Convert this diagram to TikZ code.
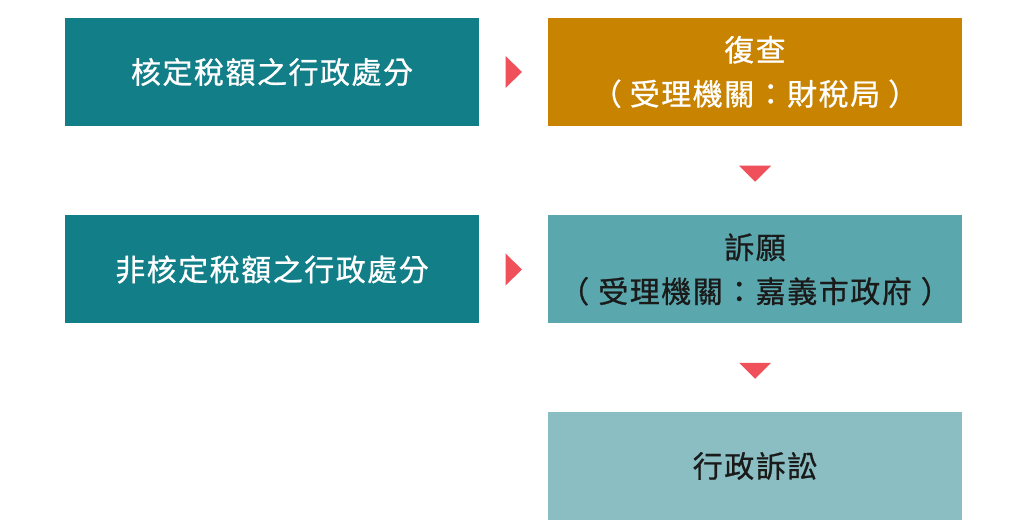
\documentclass[tikz,border=0pt]{standalone}
\usepackage{fontspec}
\newfontfamily\cjk{Noto Sans CJK TC}[FakeBold=0.8,LetterSpace=5]
\usetikzlibrary{calc}
\definecolor{tealA}{HTML}{127E87}
\definecolor{goldA}{HTML}{C88300}
\definecolor{tealB}{HTML}{5AA7AD}
\definecolor{tealC}{HTML}{8ABEC2}
\definecolor{arrowred}{HTML}{F0505A}
\definecolor{darktxt}{HTML}{1A1A1A}
\tikzset{
  box/.style={minimum width=414pt, minimum height=108pt, inner sep=0pt, align=center,
    font=\cjk\fontsize{30}{44}\selectfont, text=white},
}
\begin{document}
\begin{tikzpicture}[x=1pt,y=-1pt]
\useasboundingbox[fill=white] (0,0) rectangle (1020,529);
\node[box, fill=tealA] (k1) at (272,72) {核定稅額之行政處分};
\node[box, fill=goldA] (f1) at (755,72) {復查\\（\hspace{8pt}受理機關：財稅局\hspace{8pt}）};
\node[box, fill=tealA] (k2) at (272,269.5) {非核定稅額之行政處分};
\node[box, fill=tealB, text=darktxt] (f2) at (755,269.5) {訴願\\（\hspace{9pt}受理機關：嘉義市政府\hspace{9pt}）};
\node[box, fill=tealC, text=darktxt] (f3) at (755,466) {行政訴訟};
\coordinate (m1) at ($(k1.east)!0.5!(f1.west)$);
\coordinate (m2) at ($(k2.east)!0.5!(f2.west)$);
\coordinate (d1) at ($(f1.south)!0.5!(f2.north)$);
\coordinate (d2) at ($(f2.south)!0.5!(f3.north)$);
\fill[arrowred] ($(m1)+(-8,-16)$) -- ($(m1)+(-8,16)$) -- ($(m1)+(8.5,0)$) -- cycle;
\fill[arrowred] ($(m2)+(-8,-16)$) -- ($(m2)+(-8,16)$) -- ($(m2)+(8.5,0)$) -- cycle;
\fill[arrowred] ($(d1)+(-16,-5)$) -- ($(d1)+(16,-5)$) -- ($(d1)+(0,11)$) -- cycle;
\fill[arrowred] ($(d2)+(-16,-5)$) -- ($(d2)+(16,-5)$) -- ($(d2)+(0,11)$) -- cycle;
\end{tikzpicture}
\end{document}
